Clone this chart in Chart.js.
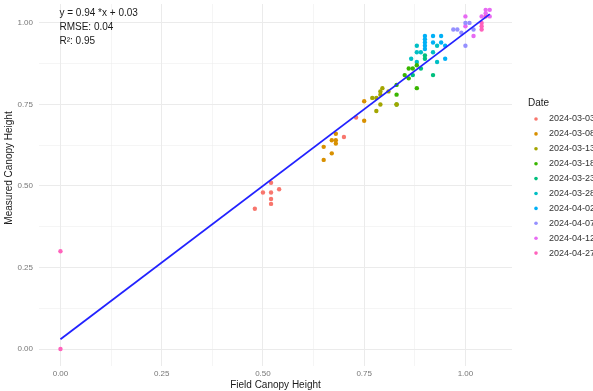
<!DOCTYPE html>
<html>
<head>
<meta charset="utf-8">
<script src="https://cdn.jsdelivr.net/npm/chart.js@4.4.1/dist/chart.umd.min.js"></script>
<style>
  html, body { margin: 0; padding: 0; background: #fff; }
  #wrap { width: 593px; height: 391px; }
</style>
</head>
<body>
<div id="wrap"><canvas id="chart" width="593" height="391"></canvas></div>
<script>
// Dates and ggplot hue colours
const dates = ['2024-03-03', '2024-03-08', '2024-03-13', '2024-03-18', '2024-03-23',
               '2024-03-28', '2024-04-02', '2024-04-07', '2024-04-12', '2024-04-27'];
const dateColors = ['#F8766D', '#D89000', '#A3A500', '#39B600', '#00BF7D',
                    '#00BFC4', '#00B0F6', '#9590FF', '#E76BF3', '#FF62BC'];

// [field, measured] pairs
const pts0303 = [[0.48,0.43],[0.50,0.48],[0.52,0.51],[0.52,0.48],[0.52,0.46],[0.52,0.445],[0.54,0.49],[0.70,0.65],[0.73,0.71]];
const pts0308 = [[0.65,0.62],[0.65,0.58],[0.67,0.64],[0.67,0.60],[0.68,0.66],[0.68,0.64],[0.68,0.63],[0.75,0.76],[0.75,0.70]];
const pts0313 = [[0.77,0.77],[0.78,0.73],[0.78,0.77],[0.79,0.79],[0.79,0.78],[0.79,0.75],[0.795,0.80],[0.81,0.79],[0.83,0.75]];
const pts0318 = [[0.83,0.78],[0.83,0.75],[0.83,0.81],[0.85,0.84],[0.86,0.86],[0.86,0.83],[0.87,0.86],[0.88,0.80],[0.88,0.87]];
const pts0323 = [[0.87,0.84],[0.89,0.86],[0.90,0.90],[0.90,0.89],[0.92,0.84]];
const pts0328 = [[0.866,0.89],[0.88,0.93],[0.88,0.91],[0.89,0.91],[0.88,0.88],[0.93,0.93],[0.93,0.88],[0.92,0.91]];
const pts0402 = [[0.90,0.96],[0.90,0.95],[0.90,0.94],[0.90,0.93],[0.90,0.92],[0.92,0.94],[0.92,0.96],[0.94,0.96],[0.94,0.94],[0.95,0.93],[0.95,0.89]];
const pts0407 = [[0.97,0.98],[0.98,0.98],[0.99,0.97],[1.00,1.00],[1.01,1.00],[1.02,0.98],[1.00,0.93]];
const pts0412 = [[1.00,1.02],[1.00,0.99],[1.02,0.96],[1.04,1.02],[1.05,1.04],[1.06,1.04],[1.06,1.02],[1.05,1.03]];
const pts0427 = [[0.00,0.30],[0.00,0.00],[1.04,0.99],[1.04,0.98],[1.04,1.00],[1.05,1.02]];
const pointsByDate = [pts0303, pts0308, pts0313, pts0318, pts0323, pts0328, pts0402, pts0407, pts0412, pts0427];

// fitted line end points
const fitX = [0.0, 1.06];
const fitY = [0.03, 1.027];

const majorTicks = [0, 0.25, 0.5, 0.75, 1.0];
const minorTicks = [0.125, 0.375, 0.625, 0.875];
const statLines = ['y = 0.94 *x + 0.03', 'RMSE: 0.04', 'R\u00B2: 0.95'];

const FONT = '"Liberation Sans", Arial, sans-serif';
const isMajor = v => majorTicks.some(t => Math.abs(t - v) < 1e-6);
const gridTicks = axis => {
    axis.ticks = majorTicks.concat(minorTicks).sort((a, b) => a - b).map(v => ({ value: v }));
};

const datasets = dates.map((d, i) => ({
    type: 'scatter',
    label: d,
    data: pointsByDate[i].map(p => ({ x: p[0], y: p[1] })),
    backgroundColor: dateColors[i],
    borderWidth: 0,
    pointRadius: 2.2,
    order: 1
}));
datasets.push({
    type: 'line',
    label: 'fit',
    data: fitX.map((x, i) => ({ x: x, y: fitY[i] })),
    borderColor: '#2222ff',
    borderWidth: 1.8,
    pointRadius: 0,
    fill: false,
    order: -1
});

// stats text, y title and ggplot-ish legend on the right
const overlay = {
    id: 'overlay',
    afterDraw(chart) {
        const ctx = chart.ctx;
        const xs = chart.scales.x;
        ctx.save();
        ctx.textBaseline = 'middle';
        ctx.textAlign = 'left';
        ctx.fillStyle = '#1a1a1a';
        ctx.font = '10px ' + FONT;
        const tx = xs.getPixelForValue(0) - 1;
        statLines.forEach((s, i) => ctx.fillText(s, tx, 13 + i * 14));

        // y axis title
        ctx.save();
        ctx.translate(9, 168);
        ctx.rotate(-Math.PI / 2);
        ctx.textAlign = 'center';
        ctx.fillText('Measured Canopy Height', 0, 0);
        ctx.restore();

        // legend
        ctx.font = '10px ' + FONT;
        ctx.fillText('Date', 528, 103);
        ctx.font = '9px ' + FONT;
        dates.forEach((d, i) => {
            const y = 119 + i * 14.9;
            ctx.beginPath();
            ctx.fillStyle = dateColors[i];
            ctx.arc(536, y, 1.8, 0, Math.PI * 2);
            ctx.fill();
            ctx.fillStyle = '#333';
            ctx.fillText(d, 549, y);
        });
        ctx.restore();
    }
};

new Chart(document.getElementById('chart'), {
    type: 'scatter',
    data: { datasets: datasets },
    options: {
        responsive: false,
        animation: false,
        layout: { padding: { top: 0, right: 81, bottom: 0, left: 0 } },
        plugins: { legend: { display: false }, tooltip: { enabled: false } },
        scales: {
            x: {
                type: 'linear',
                min: -0.053,
                max: 1.115,
                afterBuildTicks: gridTicks,
                afterFit: s => { s.height = 25; s.paddingLeft = 0; s.paddingRight = 0; },
                border: { display: false },
                grid: {
                    drawTicks: false,
                    color: '#ebebeb',
                    lineWidth: c => isMajor(c.tick.value) ? 1 : 0.5
                },
                ticks: {
                    autoSkip: false,
                    maxRotation: 0,
                    padding: 3,
                    color: '#777',
                    font: { family: FONT, size: 8 },
                    callback: v => isMajor(v) ? v.toFixed(2) : ''
                },
                title: {
                    display: true,
                    text: 'Field Canopy Height',
                    color: '#1a1a1a',
                    font: { family: FONT, size: 10 },
                    padding: { top: 0, bottom: 0 }
                }
            },
            y: {
                type: 'linear',
                min: -0.052,
                max: 1.058,
                afterBuildTicks: gridTicks,
                afterFit: s => { s.width = 39; s.paddingTop = 0; s.paddingBottom = 0; },
                border: { display: false },
                grid: {
                    drawTicks: false,
                    color: '#ebebeb',
                    lineWidth: c => isMajor(c.tick.value) ? 1 : 0.5
                },
                ticks: {
                    autoSkip: false,
                    padding: 6,
                    color: '#777',
                    font: { family: FONT, size: 8 },
                    callback: v => isMajor(v) ? v.toFixed(2) : ''
                }
            }
        }
    },
    plugins: [overlay]
});
</script>
</body>
</html>
